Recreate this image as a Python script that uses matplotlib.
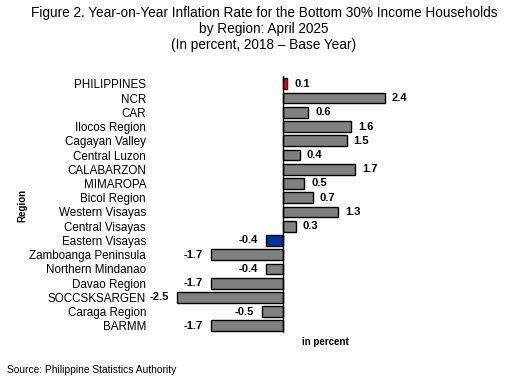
import matplotlib
matplotlib.use("Agg")
import matplotlib.pyplot as plt

plt.rcParams['font.family'] = ['Liberation Sans', 'DejaVu Sans']

regions = ["PHILIPPINES", "NCR", "CAR", "Ilocos Region", "Cagayan Valley", "Central Luzon",
           "CALABARZON", "MIMAROPA", "Bicol Region", "Western Visayas", "Central Visayas",
           "Eastern Visayas", "Zamboanga Peninsula", "Northern Mindanao", "Davao Region",
           "SOCCSKSARGEN", "Caraga Region", "BARMM"]
values = [0.1, 2.4, 0.6, 1.6, 1.5, 0.4, 1.7, 0.5, 0.7, 1.3, 0.3, -0.4, -1.7, -0.4, -1.7, -2.5, -0.5, -1.7]
value_labels = ["0.1", "2.4", "0.6", "1.6", "1.5", "0.4", "1.7", "0.5", "0.7", "1.3", "0.3",
                "-0.4", "-1.7", "-0.4", "-1.7", "-2.5", "-0.5", "-1.7"]

colors = ["#808080"] * len(regions)
colors[0] = "#FF0000"
colors[11] = "#0033A0"

W, H = 528, 378
fig = plt.figure(figsize=(W / 100, H / 100), dpi=100)

zero_px = 283
ppu = 42.4
left_px = zero_px - 3 * ppu
width_px = 6 * ppu
top_px, bot_px = 76, 333
ax = fig.add_axes([left_px / W, 1 - bot_px / H, width_px / W, (bot_px - top_px) / H])

y = list(range(len(regions)))
ax.barh(y, values, height=0.76, color=colors, edgecolor="black", linewidth=1.0, zorder=2)
ax.axvline(0, color="black", linewidth=1.0, zorder=3)
ax.set_xlim(-3, 3)
ax.set_ylim(17.5, -0.55)
ax.set_yticks(y)
ax.set_yticklabels(regions, fontsize=8.4)
ax.tick_params(axis="y", length=0, pad=7)
ax.set_xticks([])
for s in ax.spines.values():
    s.set_visible(False)

for yi, v, lab in zip(y, values, value_labels):
    if v >= 0:
        ax.annotate(lab, (v, yi), xytext=(5, 0), textcoords="offset points",
                    ha="left", va="center", fontsize=8, fontweight="bold")
    else:
        ax.annotate(lab, (v, yi), xytext=(-5.5, 0), textcoords="offset points",
                    ha="right", va="center", fontsize=8, fontweight="bold")

fig.text(264 / W, 1 - 29 / H,
         "Figure 2. Year-on-Year Inflation Rate for the Bottom 30% Income Households\nby Region: April 2025\n(In percent, 2018 \u2013 Base Year)",
         ha="center", va="center", fontsize=9.8, linespacing=1.2)
fig.text(22 / W, 1 - 205 / H, "Region", rotation=90, ha="center", va="center",
         fontsize=7, fontweight="bold")
fig.text(325 / W, 1 - 342 / H, "in percent", ha="center", va="center",
         fontsize=7, fontweight="bold")
fig.text(7 / W, 1 - 370 / H, "Source: Philippine Statistics Authority", ha="left", va="center",
         fontsize=7.4)

fig.savefig("out.png", dpi=100)
